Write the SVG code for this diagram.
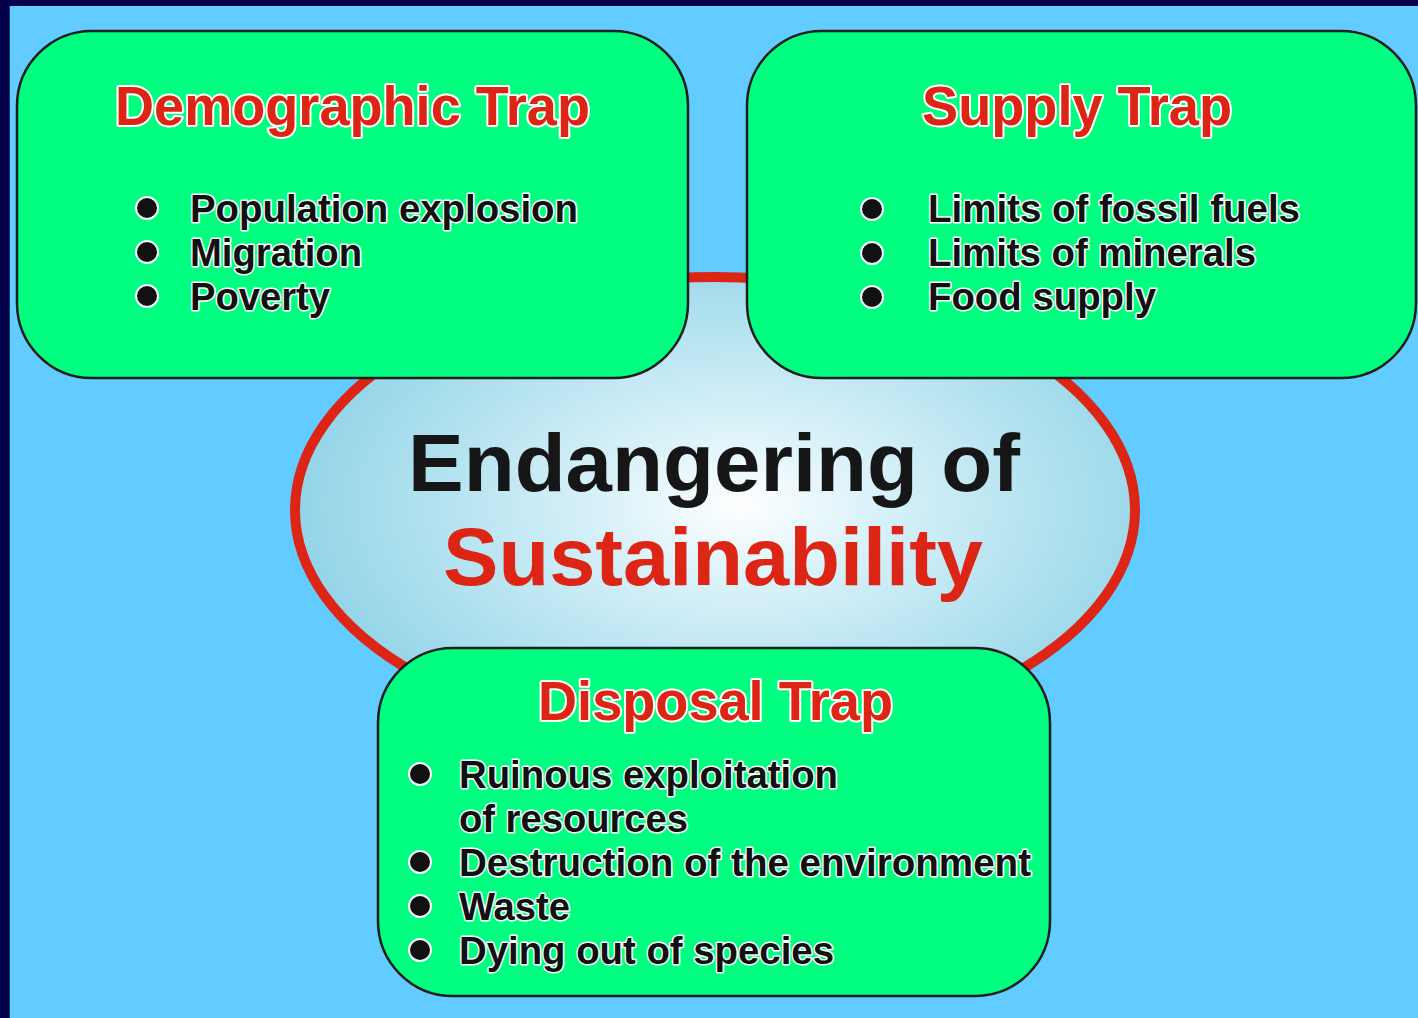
<svg xmlns="http://www.w3.org/2000/svg" width="1418" height="1018" viewBox="0 0 1418 1018">
<defs>
<radialGradient id="eg" cx="740" cy="505" r="440" gradientUnits="userSpaceOnUse" gradientTransform="translate(740 505) scale(1 0.6) translate(-740 -505)">
<stop offset="0" stop-color="#FFFFFF"/>
<stop offset="0.3" stop-color="#DAF2F9"/>
<stop offset="1" stop-color="#94D5E8"/>
</radialGradient>
<style>
.box{fill:#00FF80;stroke:#1E1E1E;stroke-width:2.5}
.title{font-family:"Liberation Sans",Arial,sans-serif;font-weight:bold;font-size:55px;fill:#DD2515;stroke:#FFFFFF;stroke-width:4;stroke-linejoin:round;paint-order:stroke}
.item{font-family:"Liberation Sans",Arial,sans-serif;font-weight:bold;font-size:38px;fill:#111111;stroke:#FFFFFF;stroke-width:3;stroke-linejoin:round;paint-order:stroke}
.item2{font-family:"Liberation Sans",Arial,sans-serif;font-weight:bold;font-size:39px;fill:#111111;stroke:#FFFFFF;stroke-width:3;stroke-linejoin:round;paint-order:stroke}
.dot{fill:#111111;stroke:#FFFFFF;stroke-width:2}
.big{font-family:"Liberation Sans",Arial,sans-serif;font-weight:bold;font-size:82px}
</style>
</defs>
<rect x="0" y="0" width="1418" height="1018" fill="#62CBFF"/>
<rect x="0" y="0" width="1418" height="6" fill="#000048"/>
<rect x="0" y="0" width="9" height="1018" fill="#000048"/>
<line x1="9.5" y1="6" x2="9.5" y2="1018" stroke="#1A3A6A" stroke-width="1"/>

<g id="center">
<ellipse cx="715" cy="510" rx="420" ry="233" fill="url(#eg)" stroke="#DD2515" stroke-width="10" />
<text class="big" x="408" y="491" fill="#161616" textLength="612" lengthAdjust="spacingAndGlyphs">Endangering of</text>
<text class="big" x="443" y="585" fill="#DD2515" textLength="540" lengthAdjust="spacingAndGlyphs">Sustainability</text>
</g>

<g id="connectors"></g>

<g id="demographic">
<rect class="box" x="17" y="31" width="671" height="347" rx="75" ry="75"/>
<text class="title" x="115" y="125" textLength="475" lengthAdjust="spacingAndGlyphs">Demographic Trap</text>
<circle class="dot" cx="147" cy="208" r="11"/>
<circle class="dot" cx="147" cy="252" r="11"/>
<circle class="dot" cx="147" cy="296" r="11"/>
<text class="item" x="190" y="222" textLength="388" lengthAdjust="spacingAndGlyphs">Population explosion</text>
<text class="item" x="190" y="266" textLength="172" lengthAdjust="spacingAndGlyphs">Migration</text>
<text class="item" x="190" y="310" textLength="140" lengthAdjust="spacingAndGlyphs">Poverty</text>
</g>

<g id="supply">
<rect class="box" x="747" y="31" width="669" height="347" rx="75" ry="75"/>
<text class="title" x="922" y="125" textLength="310" lengthAdjust="spacingAndGlyphs">Supply Trap</text>
<circle class="dot" cx="872" cy="209" r="11"/>
<circle class="dot" cx="872" cy="253" r="11"/>
<circle class="dot" cx="872" cy="297" r="11"/>
<text class="item" x="928" y="222" textLength="372" lengthAdjust="spacingAndGlyphs">Limits of fossil fuels</text>
<text class="item" x="928" y="266" textLength="328" lengthAdjust="spacingAndGlyphs">Limits of minerals</text>
<text class="item" x="928" y="310" textLength="228" lengthAdjust="spacingAndGlyphs">Food supply</text>
</g>

<g id="disposal">
<rect class="box" x="378" y="648" width="672" height="348" rx="75" ry="75"/>
<text class="title" x="538" y="720" textLength="355" lengthAdjust="spacingAndGlyphs">Disposal Trap</text>
<circle class="dot" cx="420" cy="774" r="11"/>
<circle class="dot" cx="420" cy="862" r="11"/>
<circle class="dot" cx="420" cy="906" r="11"/>
<circle class="dot" cx="420" cy="950" r="11"/>
<text class="item2" x="459" y="788" textLength="379" lengthAdjust="spacingAndGlyphs">Ruinous exploitation</text>
<text class="item2" x="459" y="832" textLength="229" lengthAdjust="spacingAndGlyphs">of resources</text>
<text class="item2" x="459" y="876" textLength="572" lengthAdjust="spacingAndGlyphs">Destruction of the environment</text>
<text class="item2" x="459" y="920" textLength="111" lengthAdjust="spacingAndGlyphs">Waste</text>
<text class="item2" x="459" y="964" textLength="375" lengthAdjust="spacingAndGlyphs">Dying out of species</text>
</g>
</svg>
